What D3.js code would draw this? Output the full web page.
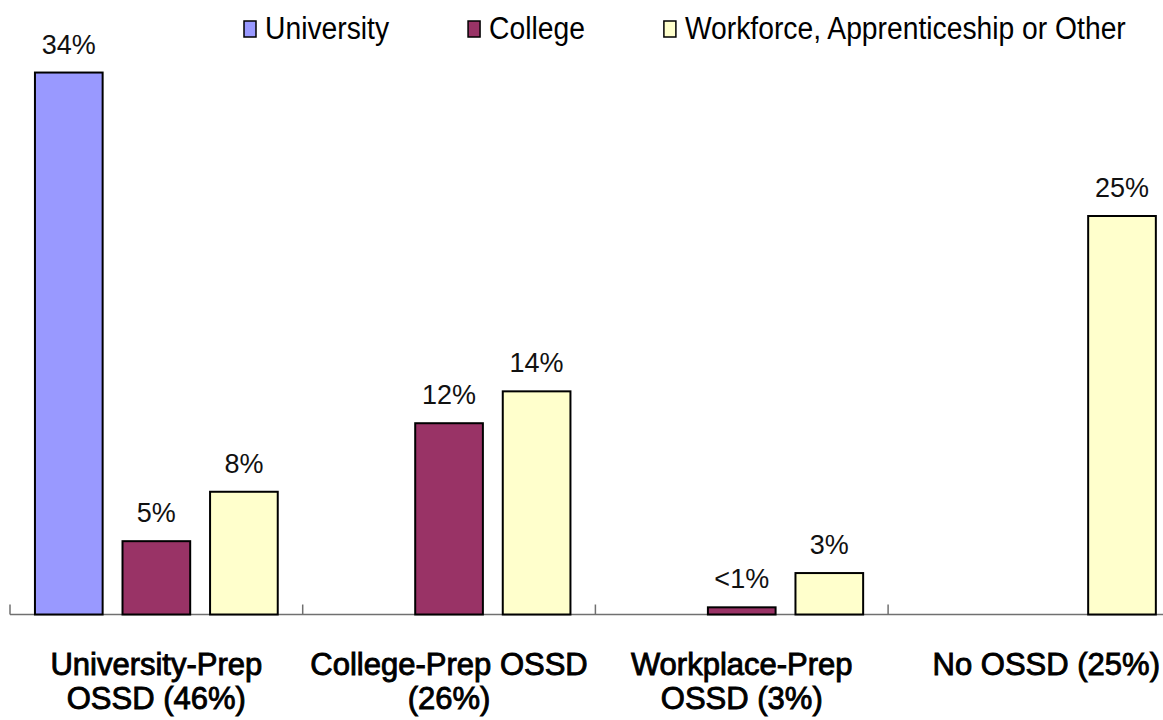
<!DOCTYPE html>
<html>
<head>
<meta charset="utf-8">
<script src="https://cdn.jsdelivr.net/npm/d3@7"></script>
<style>
  body { margin: 0; background: #fff; }
  text { font-family: "Liberation Sans", Arial, sans-serif; }
</style>
</head>
<body>
<svg id="chart" width="1163" height="720"></svg>
<script>
// data
const groups = ['University-Prep OSSD (46%)', 'College-Prep OSSD (26%)', 'Workplace-Prep OSSD (3%)', 'No OSSD (25%)'];
const groupLines = [['University-Prep', 'OSSD (46%)'], ['College-Prep OSSD', '(26%)'], ['Workplace-Prep', 'OSSD (3%)'], ['No OSSD (25%)']];
const series = ['University', 'College', 'Workforce, Apprenticeship or Other'];
const universityVals = [34, null, null, null];
const collegeVals = [4.6, 12, 0.45, null];
const workforceVals = [7.7, 14, 2.6, 25];
const universityLabels = ['34%', '', '', ''];
const collegeLabels = ['5%', '12%', '<1%', ''];
const workforceLabels = ['8%', '14%', '3%', '25%'];

const seriesColor = {
  'University': '#9999ff',
  'College': '#993366',
  'Workforce, Apprenticeship or Other': '#ffffcc'
};

const valuesBySeries = [universityVals, collegeVals, workforceVals];
const labelsBySeries = [universityLabels, collegeLabels, workforceLabels];

var rows = [];
series.forEach((s, i) => {
  groups.forEach((g, j) => {
    if (valuesBySeries[i][j] != null)
      rows.push({group: g, series: s, value: valuesBySeries[i][j], label: labelsBySeries[i][j]});
  });
});

const W = 1163, H = 720;
const baseY = 614.5;
const svg = d3.select('#chart');
svg.append('rect').attr('width', W).attr('height', H).attr('fill', '#fff');

// scales (plot runs a bit past the right edge, as in the original)
const x0 = d3.scaleBand().domain(groups).range([10, 10 + 4 * 292.7]);
const x1 = d3.scaleBand().domain(series).range([0, x0.bandwidth()])
  .paddingInner(0.227).paddingOuter(0.285);
const y = d3.scaleLinear().domain([0, baseY / 15.94]).range([baseY, 0]);

// axis line + tick marks at group boundaries
const gaxis = svg.append('g');
gaxis.append('line')
  .attr('x1', 10).attr('x2', W + 20)
  .attr('y1', baseY).attr('y2', baseY)
  .attr('stroke', '#707070').attr('stroke-width', 1.5);
var bounds = groups.map(g => x0(g)).concat([x0.range()[1]]);
gaxis.selectAll('line.tick')
  .data(bounds)
  .enter()
  .append('line')
  .attr('class', 'tick')
  .attr('x1', d => d).attr('x2', d => d)
  .attr('y1', baseY).attr('y2', baseY - 10)
  .attr('stroke', '#707070').attr('stroke-width', 1.5);

// bars
svg.append('g').selectAll('rect')
  .data(rows)
  .enter()
  .append('rect')
  .attr('x', d => x0(d.group) + x1(d.series))
  .attr('y', d => y(d.value))
  .attr('width', x1.bandwidth())
  .attr('height', d => baseY - y(d.value))
  .attr('fill', d => seriesColor[d.series])
  .attr('stroke', '#000')
  .attr('stroke-width', 2);

// value labels
svg.append('g').selectAll('text')
  .data(rows.filter(d => d.label))
  .enter()
  .append('text')
  .attr('transform', d => `translate(${x0(d.group) + x1(d.series) + x1.bandwidth() / 2},${y(d.value) - 19}) scale(1,1.05)`)
  .attr('text-anchor', 'middle')
  .attr('font-size', 27)
  .attr('fill', '#111')
  .text(d => d.label);

// category labels; a group running off the page gets its label pulled inside
var gcat = svg.append('g');
groups.forEach((g, j) => {
  var right = x0(g) + x0.bandwidth() > W;
  var cx = right ? W - 3 : x0(g) + x0.bandwidth() / 2;
  var t = gcat.append('text')
    .attr('text-anchor', right ? 'end' : 'middle')
    .attr('font-size', 31)
    .attr('fill', '#000')
    .attr('stroke', '#000')
    .attr('stroke-width', 0.9);
  groupLines[j].forEach((ln, k) => {
    t.append('tspan').attr('x', cx).attr('y', 675 + 34 * k).text(ln);
  });
});

// legend
var gleg = svg.append('g');
var lx = 244;
series.forEach(s => {
  gleg.append('rect')
    .attr('x', lx).attr('y', 21)
    .attr('width', 12).attr('height', 16)
    .attr('fill', seriesColor[s])
    .attr('stroke', '#000').attr('stroke-width', 1.5);
  var t = gleg.append('text')
    .attr('transform', `translate(${lx + 21},39) scale(1.01,1.1)`)
    .attr('font-size', 28)
    .attr('fill', '#000')
    .text(s);
  lx += 21 + t.node().getComputedTextLength() * 1.01 + 79;
});
</script>
</body>
</html>
